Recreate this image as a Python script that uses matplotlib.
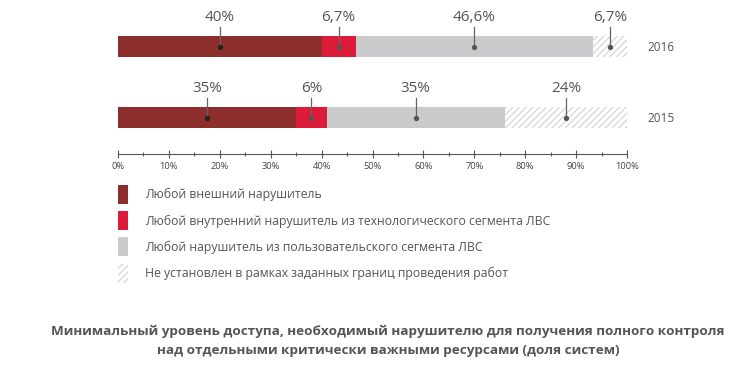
import matplotlib.pyplot as plt
from matplotlib.patches import Patch
from matplotlib.ticker import MultipleLocator

plt.rcParams['font.family'] = ['Open Sans', 'DejaVu Sans']
plt.rcParams['hatch.color'] = '#cfcfcf'
plt.rcParams['hatch.linewidth'] = 0.8

# ------------------------------------------------------------
# Data
# ------------------------------------------------------------
years = ["2016", "2015"]
vals_2016 = [40.0, 6.7, 46.6, 6.7]
vals_2015 = [35.0, 6.0, 35.0, 24.0]
labels_2016 = ["40%", "6,7%", "46,6%", "6,7%"]
labels_2015 = ["35%", "6%", "35%", "24%"]
categories = [
    "Любой внешний нарушитель",
    "Любой внутренний нарушитель из технологического сегмента ЛВС",
    "Любой нарушитель из пользовательского сегмента ЛВС",
    "Не установлен в рамках заданных границ проведения работ",
]
title = ("Минимальный уровень доступа, необходимый нарушителю для получения полного контроля\n"
         "над отдельными критически важными ресурсами (доля систем)")

colors = ["#8b2e2c", "#db1b37", "#cbcacc", "white"]
hatches = [None, None, None, "/////"]

W, H = 750, 386
fig = plt.figure(figsize=(W / 100, H / 100), dpi=100)
# axes spans the full height, y in pixel units (inverted)
ax = fig.add_axes([118 / W, 0, 509 / W, 1])
ax.set_xlim(0, 100)
ax.set_ylim(H, 0)
ax.patch.set_alpha(0)

bar_y = [46.5, 117.5]      # bar centres in px
bar_h = 21
text_dy = 29               # label text above bar centre
rows = [(vals_2016, labels_2016), (vals_2015, labels_2015)]

for yc, (vals, labs), yr in zip(bar_y, rows, years):
    left = 0.0
    for v, lab, c, h in zip(vals, labs, colors, hatches):
        ax.barh(yc, v, left=left, height=bar_h, color=c, hatch=h,
                edgecolor='#d2d2d2' if h else c, linewidth=0)
        cx = left + v / 2
        ax.plot([cx, cx], [yc - 20, yc], color='#666666', lw=0.9, zorder=3)
        ax.plot(cx, yc, 'o', ms=2.8, color='#222222' if c == colors[0] else '#555555',
                zorder=4)
        ax.text(cx, yc - text_dy, lab, ha='center', va='center',
                fontsize=11, color='#555555')
        left += v
    ax.text(106.7, yc + 1, yr, ha='center', va='center', fontsize=8.5, color='#555555')

# x axis
for s in ['top', 'left', 'right']:
    ax.spines[s].set_visible(False)
ax.spines['bottom'].set_position(('data', 154))
ax.spines['bottom'].set_color('#555555')
ax.spines['bottom'].set_linewidth(0.8)
ax.xaxis.set_major_locator(MultipleLocator(10))
ax.xaxis.set_minor_locator(MultipleLocator(5))
ax.set_xticks(range(0, 101, 10))
ax.set_xticklabels([f"{t}%" for t in range(0, 101, 10)])
ax.tick_params(axis='x', which='major', direction='inout', length=6, width=0.8,
               color='#555555', labelsize=6.7, labelcolor='#444444', pad=3)
ax.tick_params(axis='x', which='minor', direction='inout', length=2.5, width=0.8,
               color='#555555')
ax.set_yticks([])

# legend
handles = [Patch(facecolor=c, hatch=h, edgecolor='#d2d2d2' if h else c, linewidth=0)
           for c, h in zip(colors, hatches)]
fig.legend(handles, categories, loc='upper left', bbox_to_anchor=(118 / W, 1 - 185 / H),
           frameon=False, fontsize=8.8, handlelength=0.8, handleheight=2.0,
           labelspacing=0.6, handletextpad=1.4, borderpad=0, borderaxespad=0,
           labelcolor='#555555')

fig.text(388 / W, 1 - 341 / H, title, ha='center', va='center', fontsize=9.7,
         fontweight='bold', color='#555555', linespacing=1.6)

fig.savefig('out.png', dpi=100)
